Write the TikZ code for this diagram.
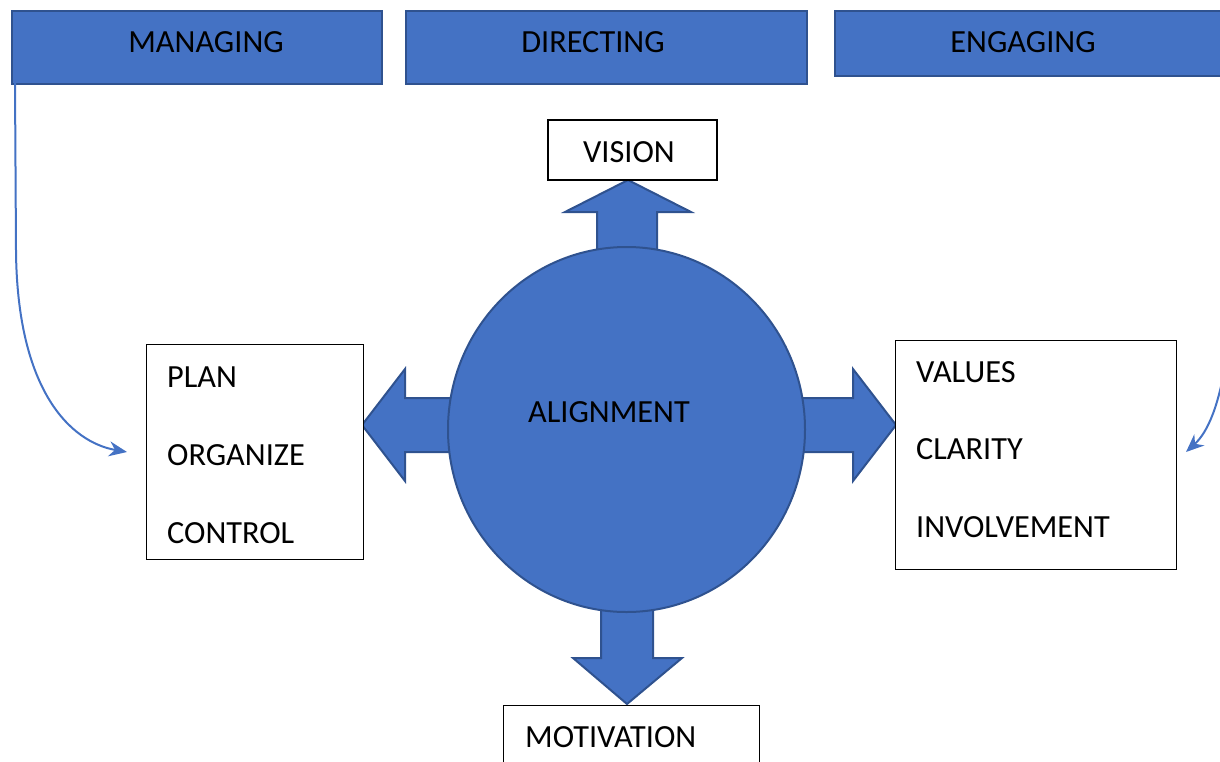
\documentclass[tikz,border=0pt]{standalone}
\usepackage{fontspec}
\setmainfont{Carlito}
\usetikzlibrary{arrows.meta,shapes.geometric}
\definecolor{fillblue}{HTML}{4472C4}
\definecolor{edgeblue}{HTML}{2F528F}
\begin{document}
\begin{tikzpicture}[x=1pt,y=-1pt,
  lbl/.style={font=\fontsize{32.3}{38}\selectfont, inner sep=0pt, text=black},
  topbox/.style={draw=edgeblue, fill=fillblue, line width=2pt, inner sep=0pt},
  whitebox/.style={draw=black, fill=white, line width=1.3pt, inner sep=0pt},
  blockarrow/.style={draw=edgeblue, fill=fillblue, line width=2pt, line join=miter},
  curvearrow/.style={draw=fillblue, line width=2pt, -{Stealth[length=18pt,width=15pt]}}
]
\useasboundingbox (0,0) rectangle (1220,761);
\clip (0,0) rectangle (1220,761);

% top boxes
\node[topbox, minimum width=370pt, minimum height=73pt, anchor=north west] (managing) at (11,10) {};
\node[topbox, minimum width=401pt, minimum height=73pt, anchor=north west] (directing) at (405,10) {};
\node[topbox, minimum width=420pt, minimum height=65pt, anchor=north west] (engaging) at (834,10) {};
\node[lbl] (managingtxt) at (206,42) {MANAGING};
\node[lbl] (directingtxt) at (593,42) {DIRECTING};
\node[lbl] (engagingtxt) at (1023,42) {ENGAGING};

% block arrows
\draw[blockarrow] (597,255) -- (597,212) -- (565,212) -- (628,180) -- (691,212) -- (657,212) -- (657,255) -- cycle;
\draw[blockarrow] (460,398) -- (405,398) -- (405,369) -- (362,425) -- (405,481) -- (405,452) -- (460,452) -- cycle;
\draw[blockarrow] (795,398) -- (853,398) -- (853,369) -- (896,425) -- (853,481) -- (853,452) -- (795,452) -- cycle;
\draw[blockarrow] (601,600) -- (601,658) -- (573,658) -- (627,704) -- (682,658) -- (653,658) -- (653,600) -- cycle;

% circle
\node[ellipse, draw=edgeblue, fill=fillblue, line width=2pt, minimum width=357pt, minimum height=365pt, inner sep=0pt] (align) at (626.5,429.5) {};
\node[lbl] (aligntxt) at (609,412) {ALIGNMENT};

% white boxes
\node[whitebox, minimum width=169pt, minimum height=60pt] (vision) at (632.5,150) {};
\node[lbl] (visiontxt) at (629,152) {VISION};

\node[whitebox, minimum width=217pt, minimum height=215pt, anchor=north west] (left) at (146,344) {};
\node[lbl, anchor=west] (plan) at (167,377) {PLAN};
\node[lbl, anchor=west] (organize) at (167,455) {ORGANIZE};
\node[lbl, anchor=west] (control) at (167,533) {CONTROL};

\node[whitebox, minimum width=281pt, minimum height=229pt, anchor=north west] (right) at (895,340) {};
\node[lbl, anchor=west] (values) at (916,372) {VALUES};
\node[lbl, anchor=west] (clarity) at (916,449) {CLARITY};
\node[lbl, anchor=west] (involvement) at (916,527) {INVOLVEMENT};

\node[whitebox, minimum width=256pt, minimum height=80pt, anchor=north west] (motivation) at (503,705) {};
\node[lbl, anchor=west] (motivtxt) at (525,737) {MOTIVATION};

% curved arrows
\coordinate (lstart) at (15,83);
\coordinate (lbend) at (16,250);
\coordinate (ltip) at (127,452);
\draw[curvearrow] (lstart) -- (lbend) .. controls (17,390) and (70,442) .. (ltip);

\coordinate (rstart) at (1226,360);
\coordinate (rtip) at (1186,452);
\draw[curvearrow] (rstart) .. controls (1219,405) and (1208,432) .. (rtip);
\end{tikzpicture}
\end{document}
